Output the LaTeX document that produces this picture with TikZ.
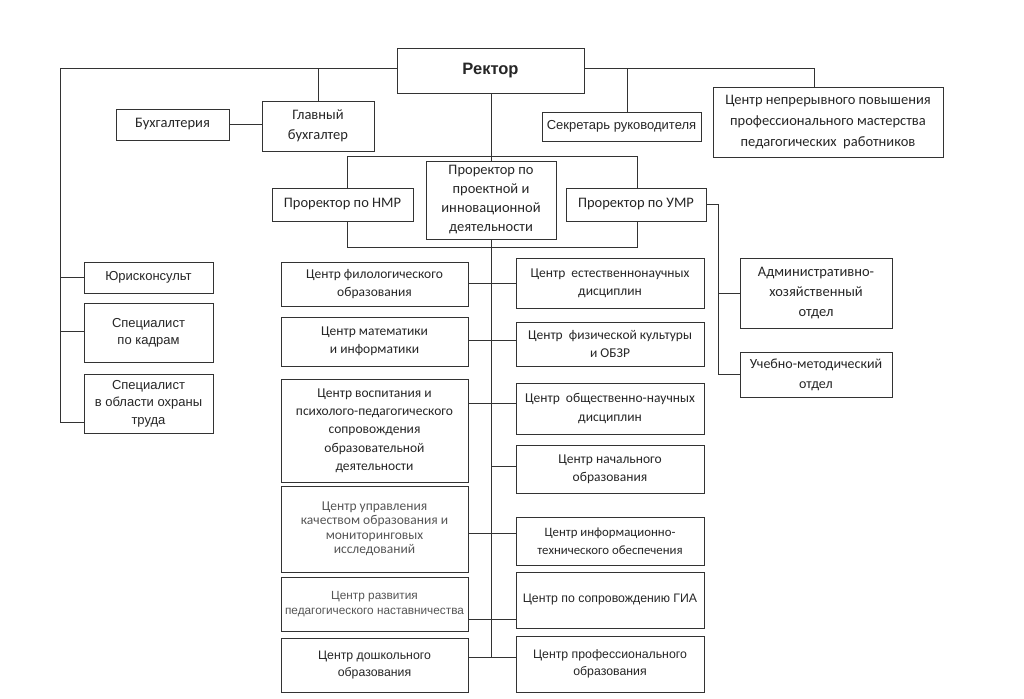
\documentclass[tikz,border=0pt]{standalone}
\usepackage{fontspec}
\setmainfont{Carlito}
\newfontfamily\arialf{Liberation Sans}
\usetikzlibrary{calc}
\definecolor{ln}{HTML}{333333}
\definecolor{gtx}{HTML}{555555}
\tikzset{
  box/.style={draw=ln, line width=0.9pt, fill=white, align=center, inner sep=0pt,
    font=\fontsize{14.5}{20}\selectfont, text=black!85},
  cbox/.style={box, font=\fontsize{13.5}{18.3}\selectfont},
  abox/.style={box, font=\arialf\fontsize{13}{17.5}\selectfont},
  sabox/.style={box, font=\arialf\fontsize{12.3}{17}\selectfont},
  conn/.style={draw=ln, line width=0.8pt},
}
\newcommand{\bx}[7][box]{% style, name, cx, cy, w, h, text
  \node[#1, minimum width=#5pt, minimum height=#6pt] (#2) at (#3,#4) {#7};}
\begin{document}
\begin{tikzpicture}[x=1pt,y=-1pt]
\useasboundingbox (0,0) rectangle (1024,698);
% frame behind vice-rectors
\node[draw=ln, line width=0.8pt, minimum width=290pt, minimum height=91pt, inner sep=0pt] (frame) at (492,201.5) {};
% top
\bx[abox]{rector}{490.5}{70.5}{187}{45}{\raisebox{3pt}{\bfseries\fontsize{16.5}{18}\selectfont Ректор}}
\bx{buh}{172.5}{124.5}{113}{31}{Бухгалтерия}
\bx{glbuh}{318}{126}{112}{50}{Главный\\бухгалтер}
\bx[abox]{sekr}{621.5}{126.5}{159}{29}{Секретарь руководителя}
\bx[box, font=\fontsize{14.5}{20.7}\selectfont]{cnpp}{828}{122}{230}{70}{Центр непрерывного повышения\\профессионального мастерства\\педагогических\ \ работников}
% vice-rectors
\bx{nmr}{342.5}{204.5}{141}{33}{Проректор по НМР}
\bx[box, font=\fontsize{14.5}{19}\selectfont]{ppi}{491}{200}{130}{78}{Проректор по\\проектной и\\инновационной\\деятельности}
\bx{umr}{636}{204.5}{140}{33}{Проректор по УМР}
% right departments
\bx{axo}{816}{293}{152}{70}{Административно-\\хозяйственный\\отдел}
\bx[box, font=\fontsize{14}{20}\selectfont]{umo}{816}{374.5}{152}{45}{Учебно-методический\\отдел}
% left column
\bx[abox]{yur}{148.5}{277.5}{129}{31}{Юрисконсульт}
\bx[abox]{kad}{148.5}{332.5}{129}{59}{\raisebox{6pt}{\begin{tabular}{@{}c@{}}Специалист\\по кадрам\end{tabular}}}
\bx[abox]{ohr}{148.5}{403.5}{129}{59}{Специалист\\в области охраны\\труда}
% centres left
\bx[cbox]{fil}{374.5}{284}{187}{44}{Центр филологического\\образования}
\bx[cbox]{mat}{374.5}{341.5}{187}{49}{Центр математики\\и информатики}
\bx[cbox]{vos}{374.5}{430.5}{187}{103}{Центр воспитания и\\психолого-педагогического\\сопровождения\\образовательной\\деятельности}
\bx[cbox, text=gtx, font=\fontsize{13.5}{14.5}\selectfont]{upr}{374.5}{529}{187}{86}{Центр управления\\качеством образования и\\мониторинговых\\исследований}
\bx[sabox, text=gtx, font=\arialf\fontsize{11.8}{15}\selectfont]{razv}{374.5}{604}{187}{54}{\raisebox{3pt}{\begin{tabular}{@{}c@{}}Центр развития\\педагогического наставничества\end{tabular}}}
\bx[sabox]{dosh}{374.5}{665}{187}{54}{Центр дошкольного\\образования}
% centres right
\bx[cbox]{est}{610}{283}{188}{50}{Центр\ \ естественнонаучных\\дисциплин}
\bx[cbox]{fiz}{610}{344}{188}{44}{Центр\ \ физической культуры\\и ОБЗР}
\bx[cbox]{obsh}{610}{408.5}{188}{51}{Центр\ \ общественно-научных\\дисциплин}
\bx[cbox]{nach}{610}{469}{188}{48}{Центр начального\\образования}
\bx[cbox, font=\fontsize{12.8}{18.5}\selectfont]{info}{610}{541}{188}{48}{Центр информационно-\\технического обеспечения}
\bx[sabox]{gia}{610}{600}{188}{56}{Центр по сопровождению ГИА}
\bx[sabox]{prof}{610}{664}{188}{56}{Центр профессионального\\образования}
% coordinates
\coordinate (tl) at (60,68);
\coordinate (tr) at (814,68);
\coordinate (spine) at (491,657);
\coordinate (rb) at (718,204.5);
% connectors
\draw[conn] (tl) -- (rector.west |- tl);
\draw[conn] (rector.east |- tr) -- (tr) -- (cnpp.north -| tr);
\draw[conn] (glbuh.north) -- (glbuh.north |- tl);
\draw[conn] (sekr.north -| 627,0) -- (627,68);
\draw[conn] (buh.east) -- (buh.east -| glbuh.west);
\draw[conn] (rector.south -| ppi.north) -- (ppi.north);
\draw[conn] (ppi.south) -- (spine);
% left column
\draw[conn] (tl) -- (60,422) -- (ohr.west |- 0,422);
\draw[conn] (60,277.5) -- (yur.west);
\draw[conn] (60,331) -- (kad.west |- 0,331);
% right
\draw[conn] (umr.east) -- (rb) -- (rb |- umo.west) -- (umo.west);
\draw[conn] (rb |- axo.west) -- (axo.west);
% centres
\draw[conn] (fil.east |- 0,283) -- (est.west |- 0,283);
\draw[conn] (mat.east |- 0,340) -- (fiz.west |- 0,340);
\draw[conn] (vos.east |- 0,403) -- (obsh.west |- 0,403);
\draw[conn] (spine |- 0,466) -- (nach.west |- 0,466);
\draw[conn] (upr.east |- 0,533) -- (info.west |- 0,533);
\draw[conn] (razv.east |- 0,619) -- (gia.west |- 0,619);
\draw[conn] (dosh.east |- spine) -- (prof.west |- spine);
\end{tikzpicture}
\end{document}
